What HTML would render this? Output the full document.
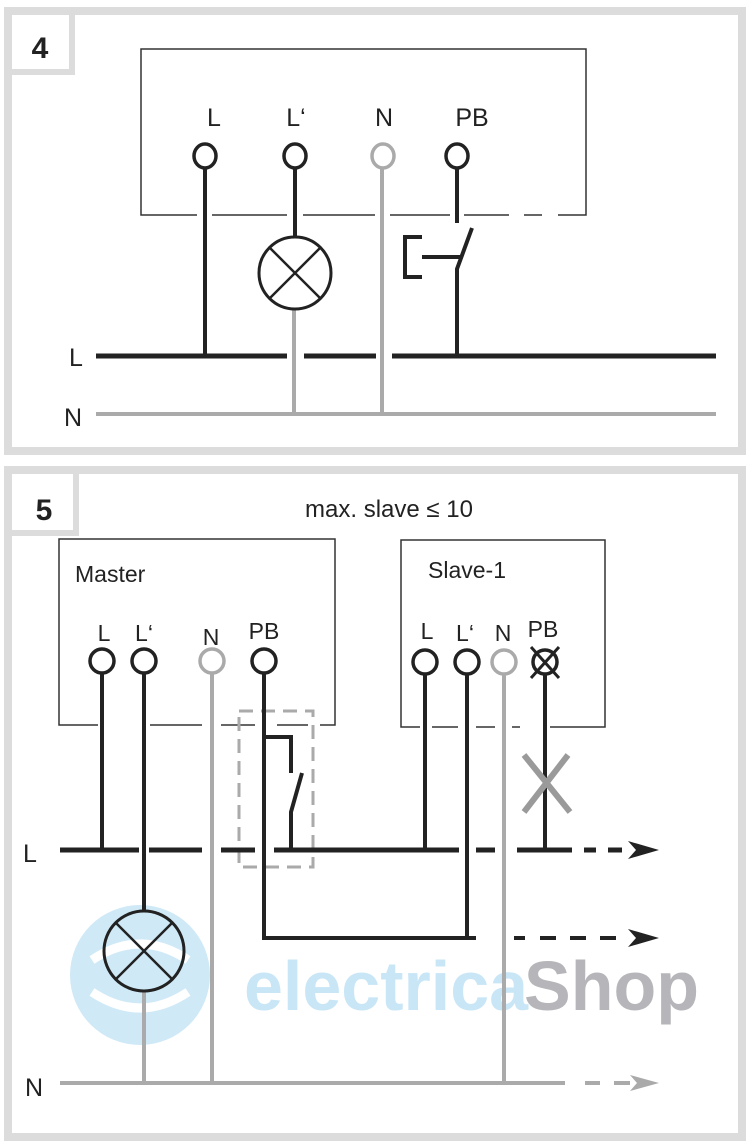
<!DOCTYPE html>
<html><head><meta charset="utf-8"><style>
html,body{margin:0;padding:0;background:#fff;}
svg{display:block;}
text{font-family:"Liberation Sans",Arial,sans-serif;}
</style></head><body>
<svg width="750" height="1148" viewBox="0 0 750 1148" xmlns="http://www.w3.org/2000/svg">
<rect width="750" height="1148" fill="#fff"/>
<rect x="8" y="11" width="734" height="440" fill="none" stroke="#dcdcdc" stroke-width="8"/>
<path d="M12 72 H72 V12" fill="none" stroke="#dcdcdc" stroke-width="6"/>
<text x="40" y="58" font-size="30" font-weight="bold" text-anchor="middle" fill="#222">4</text>
<path d="M197 215 H141 V49 H586 V215 H558 M542 215 H524 M509 215 H464 M450 215 H390 M375 215 H303 M287 215 H212" fill="none" stroke="#333" stroke-width="1.5"/>
<g font-size="25" fill="#222" text-anchor="middle">
<text x="214" y="126">L</text><text x="296" y="126">L‘</text><text x="384" y="126">N</text><text x="472" y="126">PB</text>
</g>
<path d="M96 356 H287 M304 356 H376 M392 356 H716" stroke="#222" stroke-width="5" fill="none"/>
<path d="M96 414 H716" stroke="#aaa" stroke-width="4"/>
<text x="76" y="366" font-size="25" text-anchor="middle" fill="#222">L</text>
<text x="73" y="426" font-size="25" text-anchor="middle" fill="#222">N</text>
<path d="M205 165 V356" stroke="#222" stroke-width="4"/>
<path d="M295 165 V237" stroke="#222" stroke-width="4"/>
<path d="M294 309 V414 M382 165 V414" stroke="#aaa" stroke-width="4"/>
<circle cx="295" cy="273" r="36" fill="#fff" stroke="#222" stroke-width="3"/>
<path d="M270 248 L320 298 M320 248 L270 298" stroke="#222" stroke-width="2.5"/>
<path d="M457 165 V223 M472 228 L457 269 V356 M422 257 H460 M422 237 H405 V277 H422" stroke="#222" stroke-width="4" fill="none"/>
<g fill="#fff" stroke="#222" stroke-width="3.5">
<ellipse cx="205" cy="156" rx="11" ry="12"/><ellipse cx="295" cy="156" rx="11" ry="12"/><ellipse cx="457" cy="156" rx="11" ry="12"/>
</g>
<ellipse cx="383" cy="156" rx="11" ry="12" fill="#fff" stroke="#aaa" stroke-width="3.5"/>

<rect x="8" y="470" width="734" height="667" fill="none" stroke="#dcdcdc" stroke-width="8"/>
<path d="M12 533 H76 V472" fill="none" stroke="#dcdcdc" stroke-width="6"/>
<text x="44" y="520" font-size="30" font-weight="bold" text-anchor="middle" fill="#222">5</text>
<text x="389" y="517" font-size="24" text-anchor="middle" fill="#222">max. slave ≤ 10</text>
<g>
<circle cx="140" cy="975" r="70" fill="#cfe9f7"/>
<path d="M92 960 Q140 928 188 960 M92 992 Q140 1024 188 992" stroke="#fff" stroke-width="9" fill="none"/>
<text x="244" y="1010" font-size="70" font-weight="bold" fill="#c9e6f6">electrica</text>
<text x="524" y="1010" font-size="70" font-weight="bold" fill="#b6b6ba">Shop</text>
</g>
<path d="M98 725 H59 V539 H335 V725 H320 M308 725 H277 M255 725 H221 M202 725 H150" fill="none" stroke="#333" stroke-width="1.5"/>
<path d="M420 727 H401 V540 H605 V727 H550 M520 727 H512 M495 727 H476 M458 727 H432" fill="none" stroke="#333" stroke-width="1.5"/>
<text x="75" y="582" font-size="23" fill="#222">Master</text>
<text x="428" y="578" font-size="23" fill="#222">Slave-1</text>
<g font-size="23" fill="#222" text-anchor="middle">
<text x="104" y="641">L</text><text x="144" y="641">L‘</text><text x="211" y="645">N</text><text x="264" y="639">PB</text>
<text x="427" y="639">L</text><text x="465" y="641">L‘</text><text x="503" y="641">N</text><text x="543" y="637">PB</text>
</g>
<rect x="239" y="711" width="74" height="156" fill="none" stroke="#aaa" stroke-width="3" stroke-dasharray="14,8"/>
<path d="M60 850 H139 M149 850 H202 M221 850 H255 M274 850 H459 M476 850 H495 M517 850 H572 M584 850 H596 M608 850 H622" stroke="#222" stroke-width="5" fill="none"/>
<path d="M628 841 L659 850 L628 859 L636 850 Z" fill="#222"/>
<text x="30" y="862" font-size="25" text-anchor="middle" fill="#222">L</text>
<path d="M264 672 V938 H476" stroke="#222" stroke-width="4" fill="none"/>
<path d="M514 938 H525 M540 938 H556 M570 938 H586 M600 938 H616" stroke="#222" stroke-width="4"/>
<path d="M628 929 L659 938 L628 947 L636 938 Z" fill="#222"/>
<path d="M60 1083 H565" stroke="#aaa" stroke-width="4"/>
<path d="M585 1083 H600 M614 1083 H630" stroke="#aaa" stroke-width="4"/>
<path d="M630 1075 L659 1083 L630 1091 L637 1083 Z" fill="#aaa"/>
<text x="34" y="1096" font-size="25" text-anchor="middle" fill="#222">N</text>
<path d="M102 672 V850 M144 672 V911" stroke="#222" stroke-width="4"/>
<path d="M212 672 V1083 M144 991 V1083" stroke="#aaa" stroke-width="4"/>
<circle cx="144" cy="951" r="40" fill="none" stroke="#222" stroke-width="3"/>
<path d="M116 923 L172 979 M172 923 L116 979" stroke="#222" stroke-width="2.5"/>
<path d="M264 737 H291 V773 M302 773 L291 812 V850" stroke="#222" stroke-width="4" fill="none"/>
<path d="M425 672 V850 M467 672 V938 M545 672 V850" stroke="#222" stroke-width="4"/>
<path d="M504 672 V1083" stroke="#aaa" stroke-width="4"/>
<path d="M524 755 L570 812 M568 755 L524 812" stroke="#9a9a9a" stroke-width="6"/>
<g fill="#fff" stroke="#222" stroke-width="3.5">
<circle cx="102" cy="661" r="12"/><circle cx="144" cy="661" r="12"/><circle cx="264" cy="661" r="12"/>
<circle cx="425" cy="662" r="12"/><circle cx="467" cy="662" r="12"/><circle cx="545" cy="662" r="12"/>
</g>
<g fill="#fff" stroke="#aaa" stroke-width="3.5">
<circle cx="212" cy="661" r="12"/><circle cx="504" cy="662" r="12"/>
</g>
<path d="M531 647 L559 678 M559 647 L531 678" stroke="#222" stroke-width="3"/>
</svg>
</body></html>
